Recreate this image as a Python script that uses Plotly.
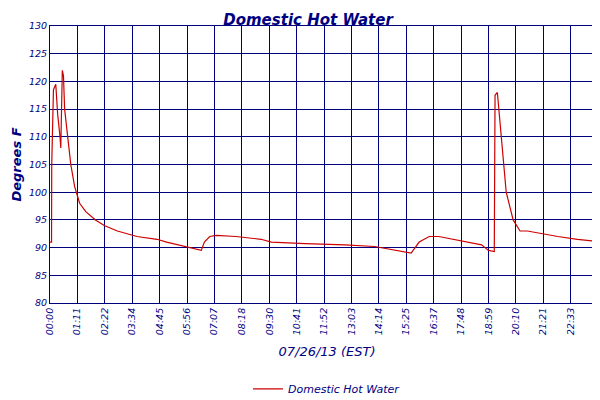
import plotly.graph_objects as go

# minutes since midnight / degrees F
minutes = [0, 4, 4.5, 9, 15, 20, 26, 28, 32, 35, 38, 46, 54, 64, 77, 93, 118, 141, 175,
           226, 278, 303, 335, 368, 385, 393, 401, 415, 432, 483, 548, 575, 663, 766, 843,
           895, 938, 959, 985, 1010, 1049, 1088, 1121, 1130, 1139, 1154, 1156, 1162, 1172,
           1185, 1203, 1221, 1240, 1280, 1319, 1370, 1434]
temps = [91, 91, 105, 118.5, 119.5, 114, 110, 108, 122, 121, 115, 110, 105, 101, 98,
         96.5, 95, 94, 93, 92, 91.5, 91, 90.5, 90, 89.7, 89.5, 91, 92, 92.2, 92, 91.5,
         91, 90.7, 90.5, 90.2, 89.5, 89, 91, 92, 92, 91.5, 91, 90.5, 90, 89.5, 89.3,
         117.5, 118, 110, 100, 95, 93, 93, 92.5, 92, 91.5, 91]

tick_vals = [0, 71, 142, 214, 285, 356, 427, 498, 570, 641, 712, 783, 854, 925, 997,
             1068, 1139, 1210, 1281, 1353, 1424, 1439]
tick_text = ['00:00', '01:11', '02:22', '03:34', '04:45', '05:56', '07:07', '08:18', '09:30',
             '10:41', '11:52', '13:03', '14:14', '15:25', '16:37', '17:48', '18:59', '20:10',
             '21:21', '22:33', '23:44', '23:59']

navy = '#00007f'
fig = go.Figure()
fig.add_trace(go.Scatter(x=minutes, y=temps, mode='lines', name='<i>Domestic Hot Water</i>',
                         line=dict(color='#cc0000', width=1.2)))
fig.update_layout(
    width=600, height=400, paper_bgcolor='white', plot_bgcolor='white',
    margin=dict(l=42, r=4, t=18, b=77),
    font=dict(family='DejaVu Sans', color=navy, size=10),
    title=dict(text='<b><i>Domestic Hot Water</i></b>', x=0.5, xanchor='center', y=0.985,
               font=dict(size=15, color=navy)),
    showlegend=True,
    legend=dict(orientation='h', x=0.5, xanchor='center', y=-0.31, yanchor='middle',
                font=dict(size=11, color=navy)),
)
fig.update_xaxes(range=[0, 1439], tickvals=tick_vals, ticktext=[f'<i>{t}</i>' for t in tick_text],
                 tickangle=-90, showgrid=True, gridcolor=navy, gridwidth=1, automargin=False,
                 showline=True, linecolor=navy, mirror=True, zeroline=False,
                 tickfont=dict(size=9.5, color=navy),
                 title=dict(text='<i>07/26/13 (EST)</i>', font=dict(size=13, color=navy), standoff=12))
fig.update_yaxes(range=[80, 130], showgrid=True, gridcolor=navy, gridwidth=1, automargin=False,
                 showline=True, linecolor=navy, mirror=True, zeroline=False,
                 tickfont=dict(size=9.5, color=navy),
                 tickvals=list(range(80, 131, 5)), ticktext=[f'<i>{v}</i>' for v in range(80, 131, 5)],
                 title=dict(text='<b><i>Degrees F</i></b>', font=dict(size=13, color=navy), standoff=4))
fig.write_html('out.html')
